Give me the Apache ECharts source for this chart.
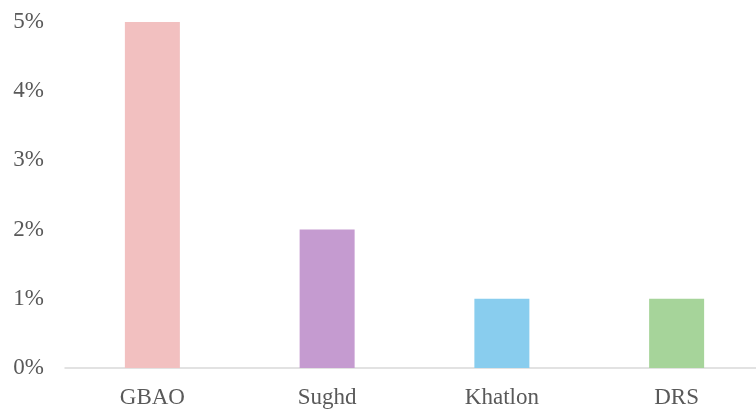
<!DOCTYPE html>
<html>
<head>
    <meta charset="utf-8">
    <script type="text/javascript" src="https://cdn.jsdelivr.net/npm/echarts@6/dist/echarts.min.js"></script>
    <style>body{margin:0;background:#fff;overflow:hidden;}</style>
</head>
<body>
<div id="chartmain" style="width:764px; height:410px;"></div>
<script type="text/javascript">
    // regions and their shares (percent)
    var regions = ['GBAO', 'Sughd', 'Khatlon', 'DRS'];
    var shares = [5, 2, 1, 1];
    var barColors = ['#F2C0C0', '#C59BD0', '#89CDEE', '#A6D49A'];

    var option = {
        animation: false,
        grid: { left: 65, right: 0, top: 22, bottom: 42 },
        xAxis: {
            type: 'category',
            data: regions,
            axisLine: { lineStyle: { color: '#d9d9d9', width: 1.5 } },
            axisTick: { show: false },
            axisLabel: { color: '#595959', fontFamily: 'Liberation Serif', fontSize: 23, margin: 18 }
        },
        yAxis: {
            type: 'value',
            min: 0, max: 5, interval: 1,
            splitLine: { show: false },
            axisLine: { show: false },
            axisTick: { show: false },
            axisLabel: {
                color: '#595959', fontFamily: 'Liberation Serif', fontSize: 23, margin: 21,
                formatter: '{value}%'
            }
        },
        series: [{
            type: 'bar',
            data: shares.map(function (v, i) {
                return { value: v, itemStyle: { color: barColors[i] } };
            }),
            barWidth: 55
        }]
    };
    var myChart = echarts.init(document.getElementById('chartmain'));
    myChart.setOption(option);
</script>
</body>
</html>
